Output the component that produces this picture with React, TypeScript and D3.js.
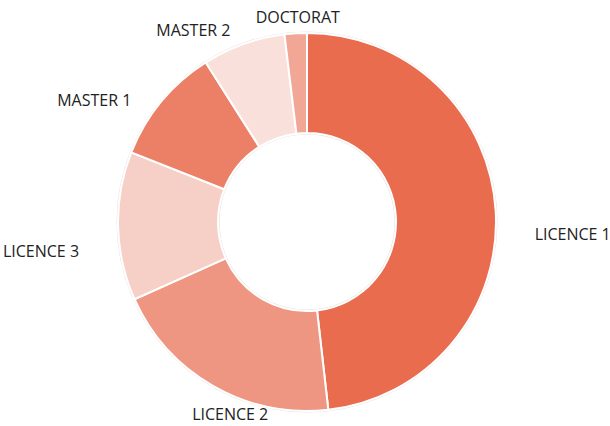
import * as d3 from 'd3';
import React, { useRef, useEffect } from 'react';

const categories = ['LICENCE 1', 'LICENCE 2', 'LICENCE 3', 'MASTER 1', 'MASTER 2', 'DOCTORAT'];
const values = [48.2, 20.1, 12.7, 10.0, 7.1, 1.9];
const colors = ['#e96c4f', '#ef9682', '#f6cfc7', '#ec8066', '#fae0db', '#f2a695'];

const width = 610;
const height = 426;

const App = () => {
    const svgRef = useRef<SVGSVGElement>(null);

    useEffect(() => {
        draw();
    }, []);

    const draw = () => {
        const svg = d3.select(svgRef.current);
        svg.selectAll('*').remove();

        const cx = 307;
        const cy = 222;
        const outer = 189;
        const inner = 89;

        const data = categories.map((name, i) => ({ name, value: values[i], color: colors[i] }));

        const pie = d3.pie<any>().sort(null).value((d) => d.value);
        const arc = d3.arc<any>().innerRadius(inner).outerRadius(outer);
        const arcs = pie(data);

        const g = svg.append('g').attr('transform', `translate(${cx}, ${cy})`);

        // faint outline round the ring
        g.append('circle').attr('r', outer + 1).attr('fill', 'none').attr('stroke', '#e4e4e4').attr('stroke-width', 1);
        g.append('circle').attr('r', inner - 1).attr('fill', 'none').attr('stroke', '#e4e4e4').attr('stroke-width', 1);

        g.selectAll('path')
            .data(arcs)
            .enter()
            .append('path')
            .attr('d', arc)
            .attr('fill', (d) => d.data.color)
            .attr('stroke', '#fff')
            .attr('stroke-width', 2);

        // label placement: a slightly squashed circle, pushed down at the sides
        const rx = 228;
        const ry = 213;
        const maxY = height - cy - 12;
        g.selectAll('.label')
            .data(arcs)
            .enter()
            .append('text')
            .attr('class', 'label')
            .each(function (d) {
                const a = (d.startAngle + d.endAngle) / 2;
                const s = Math.sin(a);
                const c = -Math.cos(a);
                const middle = c > 0.5 || Math.abs(s) < 0.15;
                const anchor = middle ? 'middle' : s > 0 ? 'start' : 'end';
                const x = middle ? s * rx * 0.68 : s * rx;
                const y = Math.min(8 + ry * c + 17 * (1 - Math.abs(c)), maxY);
                d3.select(this)
                    .attr('x', x)
                    .attr('y', y)
                    .attr('text-anchor', anchor)
                    .attr('dominant-baseline', 'central');
            })
            .style('font-family', '"Open Sans", "Noto Sans", sans-serif')
            .style('font-size', '16px')
            .attr('fill', '#222')
            .text((d) => d.data.name);
    };

    return (
        <svg ref={svgRef} width={width} height={height} style={{ position: 'absolute', left: 0, top: 0 }}>
        </svg>
    );
};

export default App;
